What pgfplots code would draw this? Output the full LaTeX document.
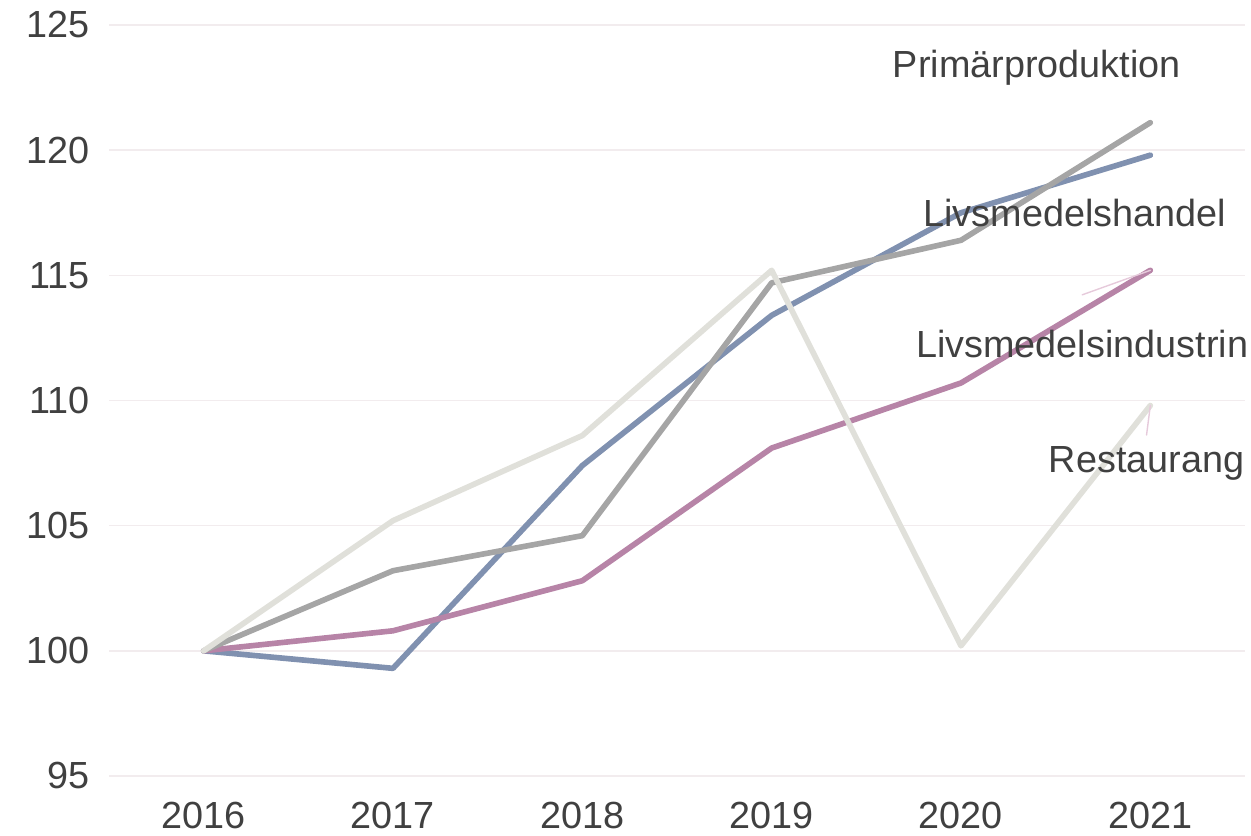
\documentclass[border=0pt]{standalone}
\usepackage{fontspec}
\setmainfont{Liberation Sans}
\usepackage{pgfplots}
\pgfplotsset{compat=1.18}
\definecolor{cblue}{HTML}{8091B0}
\definecolor{cgray}{HTML}{A5A5A5}
\definecolor{cpink}{HTML}{B784A7}
\definecolor{clight}{HTML}{E0E0DA}
\definecolor{cgrid}{HTML}{F2ECEE}
\definecolor{ctext}{HTML}{404040}
\definecolor{clead}{HTML}{E6CADB}
\begin{document}
\begin{tikzpicture}
\path[use as bounding box] (0,0) rectangle (25.02cm,16.72cm);
\begin{axis}[
  at={(2.18cm,1.2cm)}, anchor=south west,
  scale only axis, width=22.72cm, height=15.02cm,
  xmin=2015.5, xmax=2021.5, ymin=95, ymax=125,
  xtick={2016,...,2021}, ytick={95,100,...,125},
  xticklabel style={/pgf/number format/1000 sep={}, yshift=-0.40cm},
  yticklabel style={xshift=-0.26cm},
  /pgf/number format/assume math mode=true,
  ticklabel style={font=\fontsize{21.5}{25}\selectfont, text=ctext},
  axis line style={draw=none}, major tick length=0pt,
  ymajorgrids, grid style={cgrid, line width=0.8pt},
  clip=false,
  every axis plot/.append style={line width=3.2pt, line join=round, line cap=round},
]
\addplot[cblue] coordinates {(2016,100) (2017,99.3) (2018,107.4) (2019,113.4) (2020,117.5) (2021,119.8)};
\addplot[cpink] coordinates {(2016,100) (2017,100.8) (2018,102.8) (2019,108.1) (2020,110.7) (2021,115.2)};
\addplot[cgray] coordinates {(2016,100) (2017,103.2) (2018,104.6) (2019,114.7) (2020,116.4) (2021,121.1)};
\addplot[clight] coordinates {(2016,100) (2017,105.2) (2018,108.6) (2019,115.2) (2020,100.2) (2021,109.8)};
\addplot[clead, line width=0.8pt] coordinates {(2020.64,114.22) (2021,115.2)};
\addplot[clead, line width=0.8pt] coordinates {(2020.98,108.62) (2021,109.8)};
\begin{scope}[every node/.style={font=\fontsize{21.5}{25}\selectfont, text=ctext, inner sep=0pt}]
\node at (axis cs:2020.40,123.30) {Primärproduktion};
\node at (axis cs:2020.60,117.50) {Livsmedelshandel};
\node at (axis cs:2020.64,112.25) {Livsmedelsindustrin};
\node at (axis cs:2020.98,107.48) {Restaurang};
\end{scope}
\end{axis}
\end{tikzpicture}
\end{document}
